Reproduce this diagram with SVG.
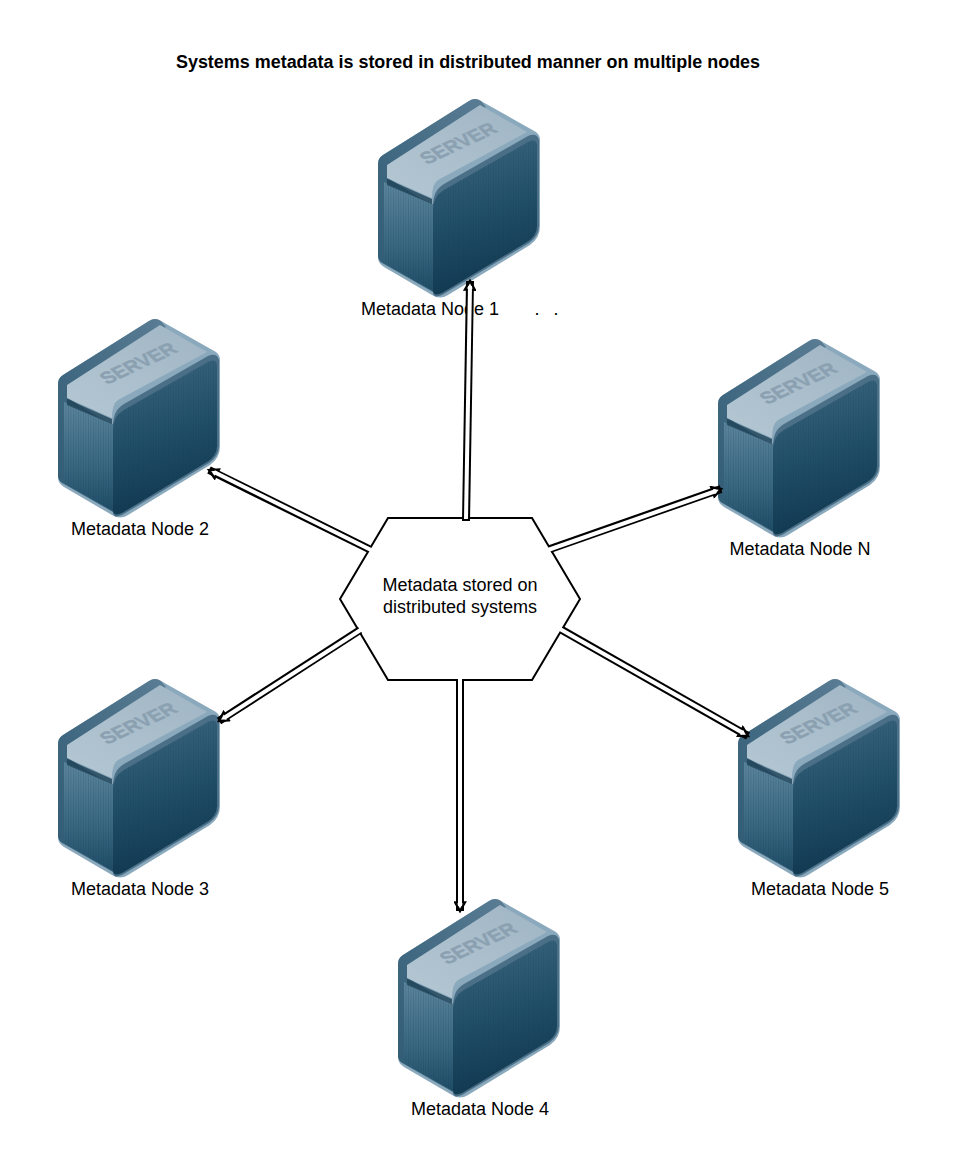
<svg xmlns="http://www.w3.org/2000/svg" width="960" height="1160" viewBox="0 0 960 1160">
<style>
text{font-family:"Liberation Sans",Arial,sans-serif;font-size:18px;fill:#000;text-anchor:middle}
.title{font-weight:bold;font-size:17.95px}
.srv{font-size:24px;font-weight:bold;fill:#8ba1b2;stroke:#8ba1b2;stroke-width:.6}
.hex{fill:#fff;stroke:#000;stroke-width:2}
.outer{fill:none;stroke:#000;stroke-width:8}
.inner{fill:none;stroke:#fff;stroke-width:4}
</style>
<defs>
<linearGradient id="gFront" x1="0" y1="0" x2="0.2" y2="1"><stop offset="0" stop-color="#3f6a83"/><stop offset="0.55" stop-color="#224f69"/><stop offset="1" stop-color="#113a52"/></linearGradient>
<linearGradient id="gLeft" x1="0" y1="0" x2="0" y2="1"><stop offset="0" stop-color="#5d879e"/><stop offset="0.6" stop-color="#3a6882"/><stop offset="1" stop-color="#1f4d67"/></linearGradient>
<linearGradient id="gTop" x1="0" y1="1" x2="1" y2="0"><stop offset="0" stop-color="#b4c7d3"/><stop offset="1" stop-color="#a0b5c4"/></linearGradient>
<linearGradient id="gBand" x1="0" y1="1" x2="1" y2="0"><stop offset="0" stop-color="#2e5a73"/><stop offset="1" stop-color="#5a7d94"/></linearGradient>
<pattern id="mesh" width="2.500" height="2.500" patternUnits="userSpaceOnUse" patternTransform="skewY(-30)"><path d="M0 0V2.500" stroke="#0b3046" stroke-opacity="0.28" stroke-width="0.800"/><path d="M0 0H2.500" stroke="#0b3046" stroke-opacity="0.2" stroke-width="0.800"/></pattern>
<pattern id="meshL" width="2.500" height="2.500" patternUnits="userSpaceOnUse" patternTransform="skewY(30)"><path d="M0 0V2.500" stroke="#0b3046" stroke-opacity="0.35" stroke-width="0.800"/><path d="M0 0H2.500" stroke="#0b3046" stroke-opacity="0.15" stroke-width="0.800"/></pattern>
<marker id="head" markerUnits="userSpaceOnUse" markerWidth="13" markerHeight="13" refX="9.500" refY="6" orient="auto" viewBox="0 0 12 12"><path d="M1.500 1.500L9.500 6L1.500 10.500Z" fill="#fff" stroke="#000" stroke-width="2.200"/></marker>
<symbol id="server" width="164" height="202" viewBox="0 0 164 202" overflow="visible">
<path d="M0 66Q0 60 5 57L91 3Q97 -1 103 3L158 34Q162 37 162 42V128Q162 140 152 147L70 197Q62 202 54 197L6 169Q0 165 0 160Z" fill="#8aa9bd"/>
<path d="M0 66Q0 60 5 57L91 3Q97 -1 103 3L108 9L14 68L10 80L55 108V194L6 166Q0 163 0 158Z" fill="url(#gBand)"/>
<path d="M9 67L102 7L149 34L60 82Q54 86 54 100L9 80Z" fill="url(#gTop)"/>
<path d="M6 84L55 106V193L8 166Q6 164 6 160Z" fill="url(#gLeft)"/>
<path d="M6 84L55 106V193L8 166Q6 164 6 160Z" fill="url(#meshL)"/>
<path d="M9 81L54 101V106L9 87Z" fill="#1f4258" fill-opacity="0.8"/>
<path d="M55 108Q55 92 66 86L150 38Q159 34 161 42V128Q161 138 151 145L64 197Q55 201 55 194Z" fill="#4a6f87"/>
<path d="M55 112Q55 98 66 92L150 44Q158 40 159 47V128Q159 138 149 144L64 195Q55 199 55 192Z" fill="url(#gFront)"/>
<path d="M55 112Q55 98 66 92L150 44Q158 40 159 47V128Q159 138 149 144L64 195Q55 199 55 192Z" fill="url(#mesh)"/>
<text class="srv" transform="matrix(.73 -.34 .58 .58 85 50)">SERVER</text>
</symbol>
</defs>
<rect width="960" height="1160" fill="#fff"/>
<text class="title" x="468" y="68">Systems metadata is stored in distributed manner on multiple nodes</text>
<g id="node-1"><use href="#server" x="378" y="98"/><text x="430" y="314.500">Metadata Node 1</text><text x="537" y="314.500">.</text><text x="556" y="314.500">.</text></g>
<g id="node-2"><use href="#server" x="58" y="318"/><text x="140" y="534.500">Metadata Node 2</text></g>
<g id="node-n"><use href="#server" x="718" y="338"/><text x="800" y="554.500">Metadata Node N</text></g>
<g id="node-3"><use href="#server" x="58" y="678"/><text x="140" y="894.500">Metadata Node 3</text></g>
<g id="node-5"><use href="#server" x="738" y="678"/><text x="820" y="894.500">Metadata Node 5</text></g>
<g id="node-4"><use href="#server" x="398" y="898"/><text x="480" y="1114.500">Metadata Node 4</text></g>
<g id="hub"><polygon class="hex" points="388,518 532,518 580,599 532,680 388,680 340,599"/><text x="460" y="590.500">Metadata stored on</text><text x="460" y="612.500">distributed systems</text></g>
<g id="connectors">
<line class="outer" x1="466" y1="521" x2="470" y2="281" marker-end="url(#head)"/><line class="inner" x1="466" y1="519" x2="470" y2="286"/>
<line class="outer" x1="369" y1="549" x2="209" y2="470" marker-end="url(#head)"/><line class="inner" x1="371" y1="550" x2="214" y2="472"/>
<line class="outer" x1="550" y1="549" x2="721" y2="489" marker-end="url(#head)"/><line class="inner" x1="548" y1="550" x2="716" y2="491"/>
<line class="outer" x1="360" y1="630" x2="219" y2="721" marker-end="url(#head)"/><line class="inner" x1="362" y1="629" x2="224" y2="718"/>
<line class="outer" x1="562" y1="630" x2="748" y2="736" marker-end="url(#head)"/><line class="inner" x1="560" y1="629" x2="743" y2="733"/>
<line class="outer" x1="460" y1="680" x2="460" y2="911" marker-end="url(#head)"/><line class="inner" x1="460" y1="678" x2="460" y2="906"/>
</g>
</svg>
